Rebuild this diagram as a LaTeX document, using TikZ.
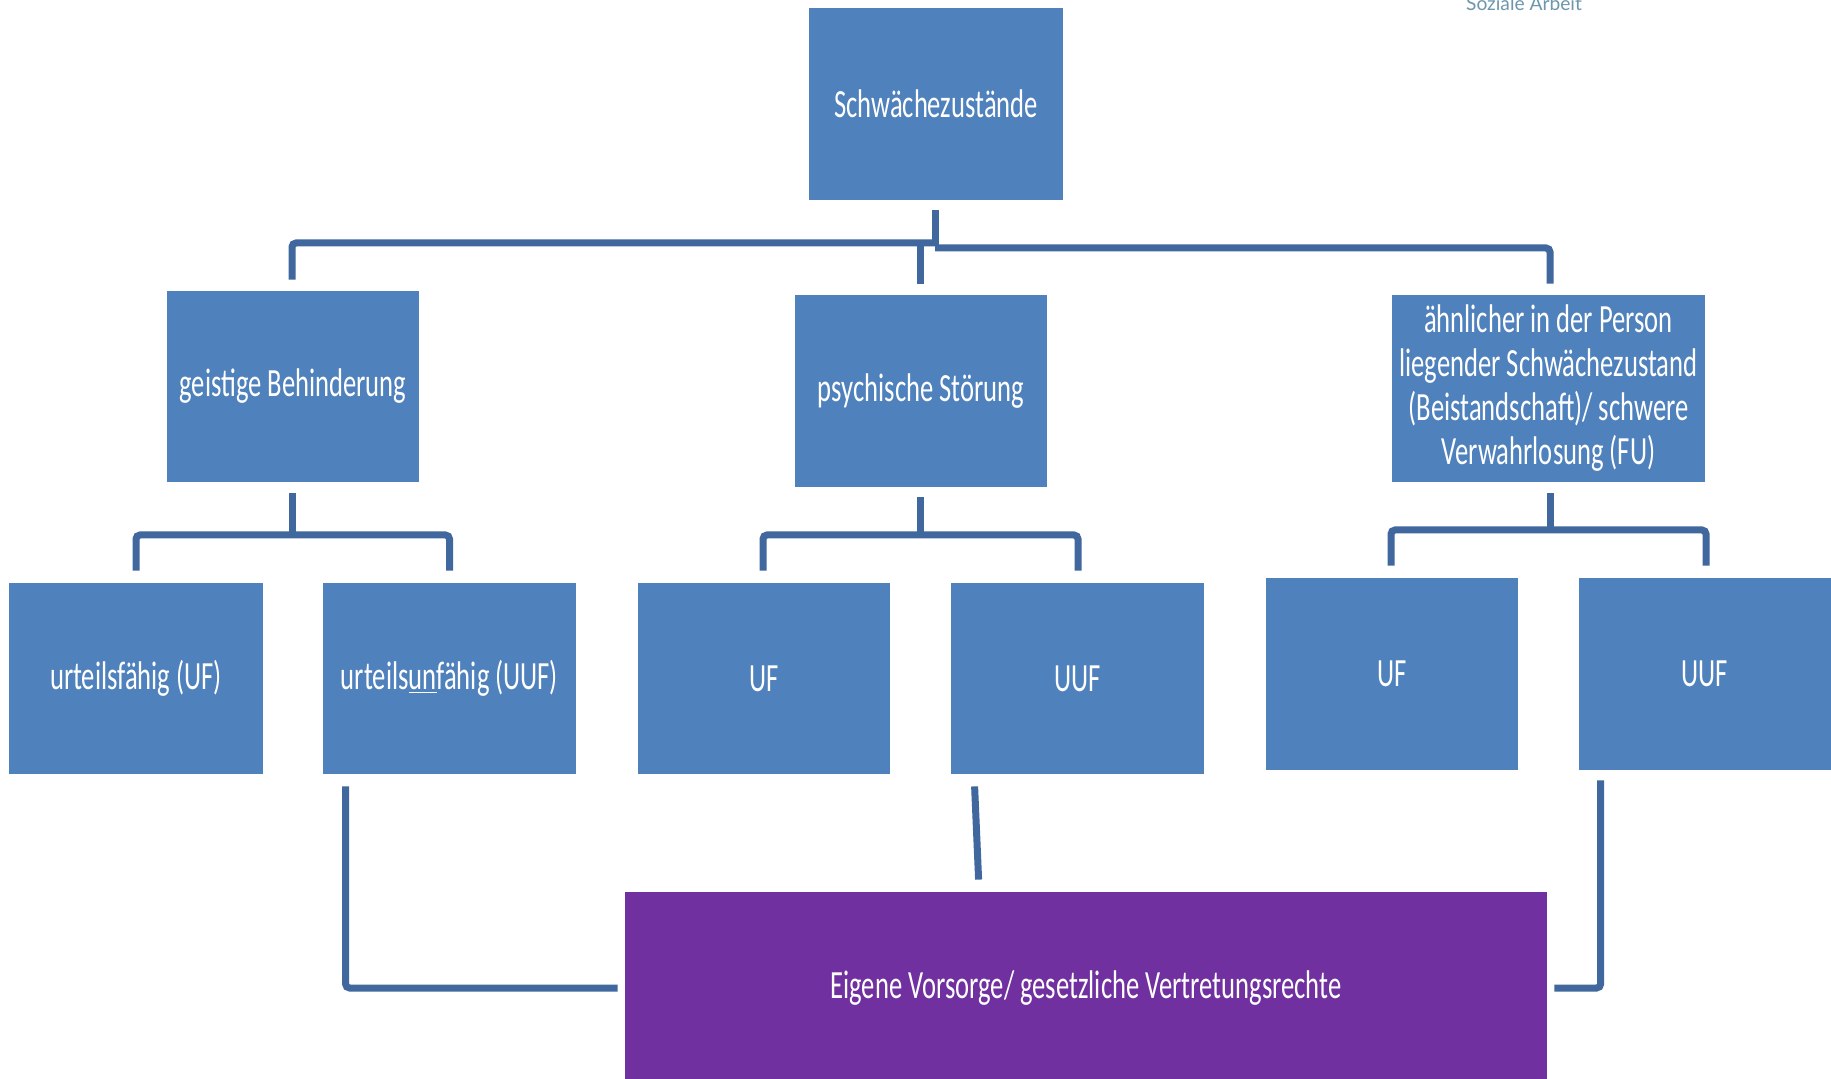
\documentclass[tikz,border=0pt]{standalone}
\usepackage{fontspec}
\setmainfont{Carlito}[FakeStretch=0.665]
\newfontfamily\headfont{Lato}
\usetikzlibrary{calc}
\definecolor{boxblue}{RGB}{79,129,189}
\definecolor{boxpurple}{RGB}{112,48,160}
\definecolor{connblue}{RGB}{64,104,158}
\definecolor{headgray}{RGB}{110,151,172}
\tikzset{
  bbox/.style={fill=boxblue, draw=none, text=white, inner sep=0pt, align=center,
    font=\fontsize{20pt}{22pt}\selectfont},
  pbox/.style={bbox, fill=boxpurple},
  conn/.style={draw=connblue, line width=3.5pt, line cap=butt, rounded corners=2pt},
}
\begin{document}
\begin{tikzpicture}[x=0.5pt, y=-0.5pt]
\clip (0,0) rectangle (1831,1079);
\useasboundingbox (0,0) rectangle (1831,1079);
\fill[white] (0,0) rectangle (1831,1079);

\node[anchor=base, text=headgray, font=\headfont\fontsize{9.6pt}{10pt}\selectfont] (head) at (1524,11) {Soziale Arbeit};

\node[bbox, minimum width=127pt, minimum height=96pt] (top) at (936,104) {Schwächezustände};
\node[bbox, minimum width=126pt, minimum height=95.5pt] (gb) at (293,386.5) {geistige Behinderung};
\node[bbox, minimum width=126pt, minimum height=96pt] (ps) at (921,391) {psychische Störung};
\node[bbox, minimum width=156.5pt, minimum height=93.5pt] (ah) at (1548.5,388.5) {ähnlicher in der Person\\liegender Schwächezustand\\(Beistandschaft)/ schwere\\Verwahrlosung (FU)};

\node[bbox, minimum width=127pt, minimum height=95.5pt] (u1) at (136,678.5) {urteilsfähig (UF)};
\node[bbox, minimum width=126.5pt, minimum height=95.5pt] (u2) at (449.5,678.5) {urteils\underline{un}fähig (UUF)};
\node[bbox, minimum width=126pt, minimum height=95.5pt] (p1) at (764,678.5) {UF};
\node[bbox, minimum width=126.5pt, minimum height=95.5pt] (p2) at (1077.5,678.5) {UUF};
\node[bbox, minimum width=126pt, minimum height=96pt] (r1) at (1392,674) {UF};
\node[bbox, minimum width=126pt, minimum height=96pt] (r2) at (1705,674) {UUF};

\node[pbox, minimum width=461pt, minimum height=96pt] (pu) at (1086,988) {Eigene Vorsorge/ gesetzliche Vertretungsrechte};

\coordinate (lvA) at (0,243);
\coordinate (lvB) at (0,248);
\coordinate (lvG) at (0,535);
\coordinate (lvP) at (0,535);
\coordinate (lvR) at (0,530);
\coordinate (lvE) at (0,988);

% top level
\coordinate (t0) at ($(top.south)+(-1,10)$);
\coordinate (t1) at ($(top.south)+(-1,45)$);
\coordinate (g0) at ($(gb.north)+(-1,-11)$);
\coordinate (s0) at ($(ps.north)+(-1,-11)$);
\coordinate (a0) at ($(ah.north)+(1.5,-11)$);
\draw[conn] (t0) -- (t1);
\draw[conn] (t0 |- lvA) -- (g0 |- lvA) -- (g0);
\draw[conn] (t0 |- lvB) -- (a0 |- lvB) -- (a0);
\draw[conn] (s0 |- lvA) -- (s0);

% second level: geistige Behinderung
\coordinate (g1) at ($(gb.south)+(-1,11)$);
\coordinate (u1t) at ($(u1.north)+(0,-12)$);
\coordinate (u2t) at ($(u2.north)+(0,-12)$);
\draw[conn] (g1) -- (g1 |- lvG);
\draw[conn] (u1t) -- (u1t |- lvG) -- (u2t |- lvG) -- (u2t);

% second level: psychische Störung
\coordinate (s1) at ($(ps.south)+(-1,10)$);
\coordinate (p1t) at ($(p1.north)+(-1,-12)$);
\coordinate (p2t) at ($(p2.north)+(0.5,-12)$);
\draw[conn] (s1) -- (s1 |- lvP);
\draw[conn] (p1t) -- (p1t |- lvP) -- (p2t |- lvP) -- (p2t);

% second level: aehnlicher
\coordinate (a1) at ($(ah.south)+(1.5,11)$);
\coordinate (r1t) at ($(r1.north)+(-1,-12)$);
\coordinate (r2t) at ($(r2.north)+(1,-12)$);
\draw[conn] (a1) -- (a1 |- lvR);
\draw[conn] (r1t) -- (r1t |- lvR) -- (r2t |- lvR) -- (r2t);

% bottom connectors
\coordinate (b1) at ($(u2.south west)+(23,12)$);
\coordinate (b1e) at ($(pu.west)+(-7,0)$);
\draw[conn] (b1) -- (b1 |- lvE) -- (b1e);
\coordinate (b2) at ($(p2.south west)+(24,12)$);
\coordinate (b2e) at ($(pu.north west)+(354,-12)$);
\draw[conn] (b2) -- (b2e);
\coordinate (b3) at ($(r2.south west)+(22,10)$);
\coordinate (b3e) at ($(pu.east)+(7,0)$);
\draw[conn] (b3) -- (b3 |- lvE) -- (b3e);
\end{tikzpicture}
\end{document}
